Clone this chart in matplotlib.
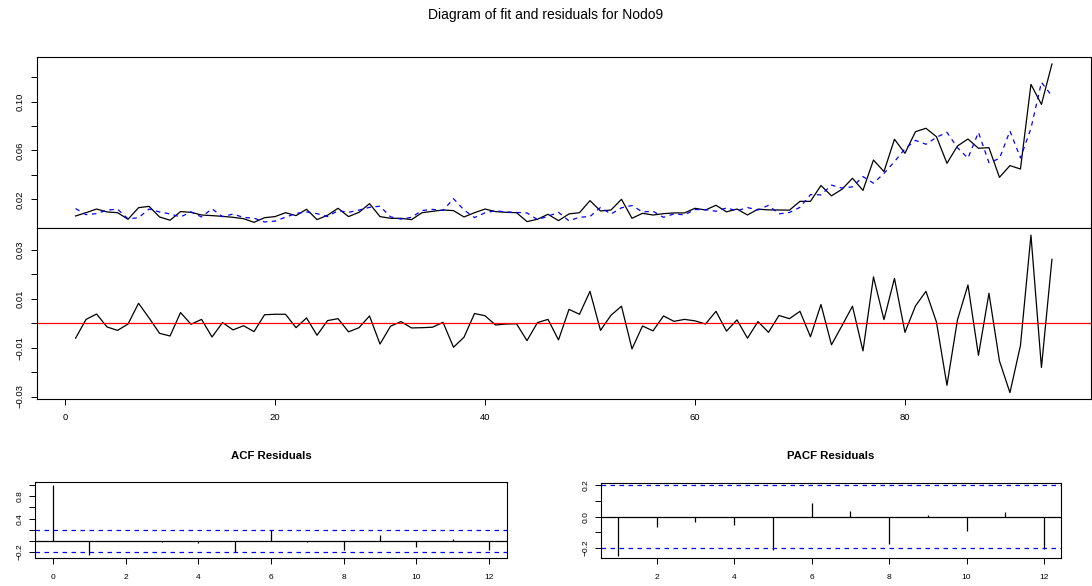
import numpy as np
import matplotlib
matplotlib.use("Agg")
import matplotlib.pyplot as plt

plt.rcParams['font.family'] = ['Liberation Sans', 'DejaVu Sans']

# Observed series (Nodo9) and the model's fitted values
actual = [
    0.0063, 0.0090, 0.0120, 0.0096, 0.0090, 0.0036, 0.0131, 0.0142, 0.0055, 0.0028,
    0.0099, 0.0093, 0.0071, 0.0066, 0.0060, 0.0052, 0.0041, 0.0011, 0.0049, 0.0058,
    0.0090, 0.0066, 0.0118, 0.0033, 0.0069, 0.0126, 0.0058, 0.0093, 0.0164, 0.0058,
    0.0044, 0.0044, 0.0033, 0.0090, 0.0101, 0.0112, 0.0107, 0.0055, 0.0090, 0.0120,
    0.0099, 0.0093, 0.0090, 0.0017, 0.0036, 0.0077, 0.0025, 0.0080, 0.0090, 0.0189,
    0.0104, 0.0112, 0.0200, 0.0044, 0.0085, 0.0071, 0.0082, 0.0088, 0.0088, 0.0126,
    0.0112, 0.0151, 0.0097, 0.0120, 0.0071, 0.0119, 0.0113, 0.0112, 0.0111, 0.0183,
    0.0183, 0.0313, 0.0228, 0.0282, 0.0372, 0.0273, 0.0522, 0.0427, 0.0692, 0.0577,
    0.0754, 0.0782, 0.0713, 0.0495, 0.0637, 0.0694, 0.0618, 0.0623, 0.0380, 0.0476,
    0.0448, 0.1142, 0.0978, 0.1309,
]

fitted = [
    0.0124, 0.0074, 0.0082, 0.0111, 0.0119, 0.0039, 0.0049, 0.0120, 0.0096, 0.0080,
    0.0055, 0.0097, 0.0055, 0.0122, 0.0057, 0.0079, 0.0051, 0.0045, 0.0014, 0.0021,
    0.0053, 0.0084, 0.0096, 0.0082, 0.0058, 0.0107, 0.0093, 0.0111, 0.0134, 0.0143,
    0.0056, 0.0037, 0.0052, 0.0108, 0.0117, 0.0108, 0.0205, 0.0112, 0.0050, 0.0089,
    0.0106, 0.0096, 0.0092, 0.0088, 0.0033, 0.0061, 0.0093, 0.0023, 0.0053, 0.0058,
    0.0133, 0.0079, 0.0130, 0.0149, 0.0096, 0.0102, 0.0052, 0.0080, 0.0072, 0.0116,
    0.0115, 0.0102, 0.0129, 0.0106, 0.0132, 0.0112, 0.0150, 0.0080, 0.0092, 0.0134,
    0.0238, 0.0236, 0.0316, 0.0292, 0.0302, 0.0386, 0.0332, 0.0412, 0.0508, 0.0614,
    0.0683, 0.0651, 0.0708, 0.0749, 0.0623, 0.0537, 0.0749, 0.0500, 0.0534, 0.0760,
    0.0539, 0.0781, 0.1159, 0.1047,
]

residuals = [
    -0.0061, 0.0016, 0.0038, -0.0015, -0.0029, -0.0003, 0.0082, 0.0022, -0.0041, -0.0052,
    0.0044, -0.0004, 0.0016, -0.0056, 0.0003, -0.0027, -0.0010, -0.0034, 0.0035, 0.0037,
    0.0037, -0.0018, 0.0022, -0.0049, 0.0011, 0.0019, -0.0035, -0.0018, 0.0030, -0.0085,
    -0.0012, 0.0007, -0.0019, -0.0018, -0.0016, 0.0004, -0.0098, -0.0057, 0.0040, 0.0031,
    -0.0007, -0.0003, -0.0002, -0.0071, 0.0003, 0.0016, -0.0068, 0.0057, 0.0037, 0.0131,
    -0.0029, 0.0033, 0.0070, -0.0105, -0.0011, -0.0031, 0.0030, 0.0008, 0.0016, 0.0010,
    -0.0003, 0.0049, -0.0032, 0.0014, -0.0061, 0.0007, -0.0037, 0.0032, 0.0019, 0.0049,
    -0.0055, 0.0077, -0.0088, -0.0010, 0.0070, -0.0113, 0.0190, 0.0015, 0.0184, -0.0037,
    0.0071, 0.0131, 0.0005, -0.0254, 0.0014, 0.0157, -0.0131, 0.0123, -0.0154, -0.0284,
    -0.0091, 0.0361, -0.0181, 0.0262,
]

# Autocorrelations of the residuals
acf_lags = list(range(0, 13))
acf_values = [1.0, -0.245, -0.005, -0.01, -0.03, -0.19, 0.20, -0.02, -0.17, 0.10, -0.11, 0.03, -0.16]

pacf_lags = list(range(1, 13))
pacf_values = [-0.249, -0.064, -0.032, -0.053, -0.213, 0.085, 0.034, -0.174, 0.009, -0.089, 0.030, -0.206]

conf_bound = 0.2022

W, H = 1092, 586
fig = plt.figure(figsize=(W / 100, H / 100), dpi=100)


def box(left, top, right, bottom):
    return [left / W, 1 - bottom / H, (right - left) / W, (bottom - top) / H]


TICK_FS = 6.8
SMALL_FS = 6.0
LW = 0.9


def style_axes(ax, fs, xpad=6.0):
    for s in ax.spines.values():
        s.set_linewidth(0.8)
        s.set_color('black')
    ax.tick_params(direction='out', length=4.3, width=0.7, labelsize=fs, colors='black')
    ax.tick_params(axis='y', pad=4.0)
    ax.tick_params(axis='x', pad=xpad)


def rotate_ylabels(ax):
    for lab in ax.get_yticklabels():
        lab.set_rotation(90)
        lab.set_va('center')
        lab.set_ha('right')


t = np.arange(1, len(actual) + 1)

# Fit panel
ax1 = fig.add_axes(box(36.5, 57.3, 1091, 228.3))
ax1.plot(t, actual, color='black', lw=LW)
ax1.plot(t, fitted, color='blue', lw=LW, ls=(0, (3.6, 3.6)))
ax1.set_xlim(-2.72, 97.72)
ax1.set_ylim(-0.0038, 0.1364)
style_axes(ax1, TICK_FS)
ax1.tick_params(axis='x', bottom=False, labelbottom=False)
yt1 = [0.02, 0.04, 0.06, 0.08, 0.10, 0.12]
ax1.set_yticks(yt1)
ax1.set_yticklabels(['0.02', '', '0.06', '', '0.10', ''])
rotate_ylabels(ax1)

# Residual panel
ax2 = fig.add_axes(box(36.5, 228.3, 1091, 399))
ax2.plot(t, residuals, color='black', lw=LW)
ax2.axhline(0, color='red', lw=LW)
ax2.set_xlim(-2.72, 97.72)
ax2.set_ylim(-0.031, 0.0389)
style_axes(ax2, TICK_FS)
ax2.set_xticks([0, 20, 40, 60, 80])
ax2.set_xticklabels(['0', '20', '40', '60', '80'])
yt2 = [-0.03, -0.02, -0.01, 0.0, 0.01, 0.02, 0.03]
ax2.set_yticks(yt2)
ax2.set_yticklabels(['\u22120.03', '', '\u22120.01', '', '0.01', '', '0.03'])
rotate_ylabels(ax2)

# ACF panel
ax3 = fig.add_axes(box(35, 482, 507, 558))
ax3.vlines(acf_lags, 0, acf_values, color='black', lw=LW)
ax3.axhline(0, color='black', lw=LW)
for b in (conf_bound, -conf_bound):
    ax3.axhline(b, color='blue', lw=LW, ls=(0, (3.6, 3.6)))
ax3.set_xlim(-0.5, 12.5)
ax3.set_ylim(-0.305, 1.056)
style_axes(ax3, SMALL_FS, xpad=7.5)
ax3.set_xticks(range(0, 13, 2))
yt3 = [-0.2, 0.0, 0.2, 0.4, 0.6, 0.8, 1.0]
ax3.set_yticks(yt3)
ax3.set_yticklabels(['\u22120.2', '', '', '0.4', '', '0.8', ''])
rotate_ylabels(ax3)
ax3.set_title('ACF Residuals', fontsize=8.2, fontweight='bold', pad=16.7)

# PACF panel
ax4 = fig.add_axes(box(601, 483, 1061, 558))
ax4.vlines(pacf_lags, 0, pacf_values, color='black', lw=LW)
ax4.axhline(0, color='black', lw=LW)
for b in (conf_bound, -conf_bound):
    ax4.axhline(b, color='blue', lw=LW, ls=(0, (3.6, 3.6)))
ax4.set_xlim(0.56, 12.44)
ax4.set_ylim(-0.264, 0.215)
style_axes(ax4, SMALL_FS, xpad=7.5)
ax4.set_xticks(range(2, 13, 2))
yt4 = [-0.2, -0.1, 0.0, 0.1, 0.2]
ax4.set_yticks(yt4)
ax4.set_yticklabels(['\u22120.2', '', '0.0', '', '0.2'])
rotate_ylabels(ax4)
ax4.set_title('PACF Residuals', fontsize=8.2, fontweight='bold', pad=17.4)

fig.text(0.5, 1 - 14.5 / H, 'Diagram of fit and residuals for Nodo9',
         ha='center', va='center', fontsize=10)

fig.savefig('out.png', dpi=100)
